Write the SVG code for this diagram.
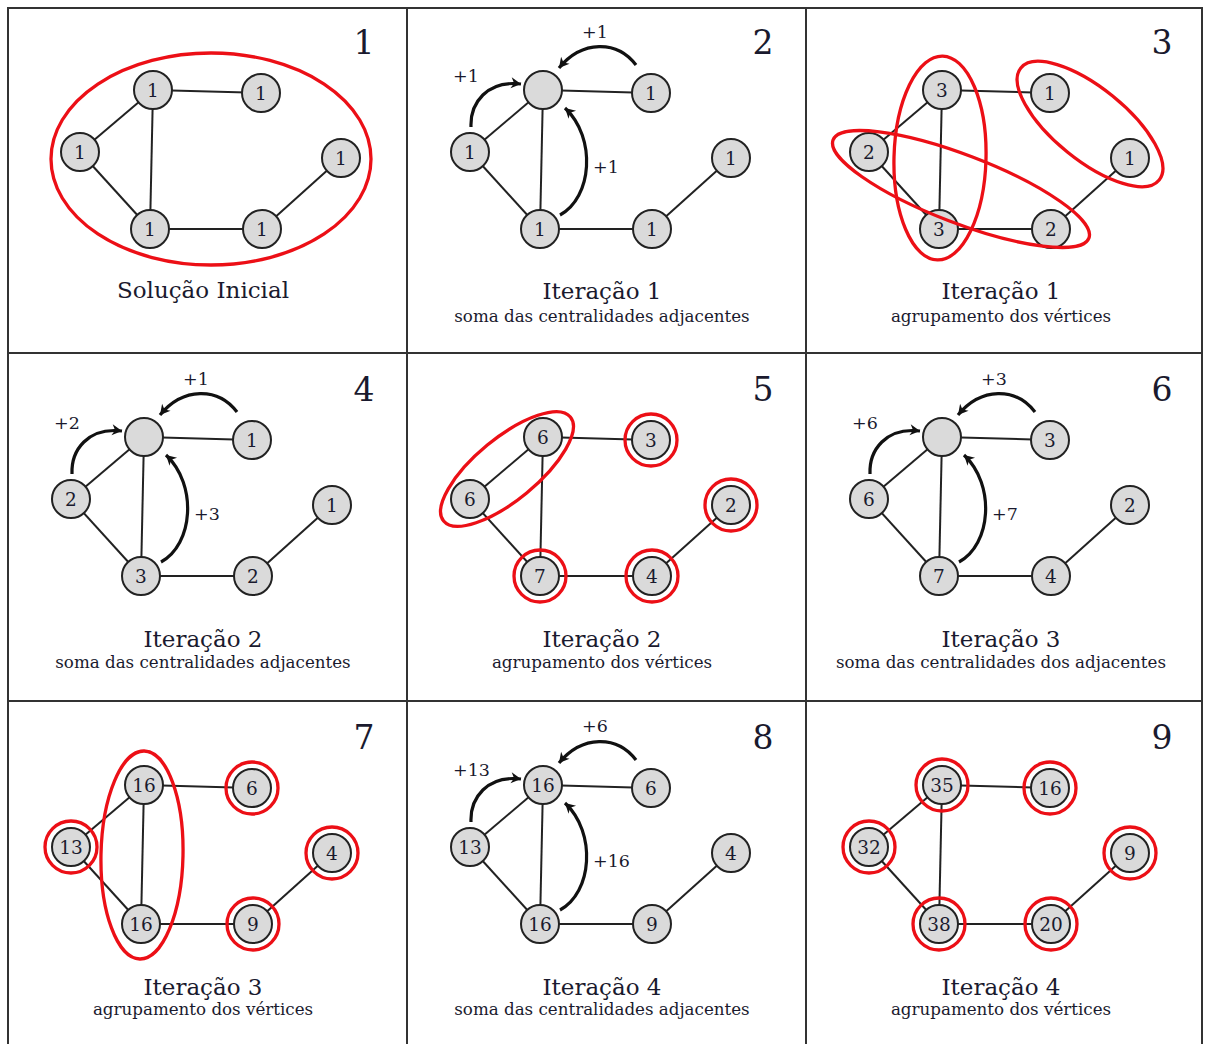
<svg xmlns="http://www.w3.org/2000/svg" width="1205" height="1044" viewBox="0 0 1205 1044">
<defs>
<style>
.frame line{stroke:#333;stroke-width:2}
.edges line{stroke:#222;stroke-width:2}
.node circle{fill:#dadada;stroke:#222;stroke-width:2}
.node text{font-family:"DejaVu Serif",serif;font-size:18.5px;fill:#1a1a2e;text-anchor:middle}
.ring{fill:none;stroke:#ec0f16;stroke-width:3.3}
.arrow{fill:none;stroke:#111;stroke-width:3.2;marker-end:url(#head)}
.lbl{font-family:"DejaVu Serif",serif;font-size:17.5px;fill:#1a1a2e}
.num{font-family:"DejaVu Serif",serif;font-size:33px;fill:#1a1a2e;text-anchor:middle}
.title{font-family:"DejaVu Serif",serif;font-size:23px;fill:#1a1a2e;text-anchor:middle}
.sub{font-family:"DejaVu Serif",serif;font-size:16.7px;fill:#1a1a2e;text-anchor:middle}
</style>
<marker id="head" markerUnits="userSpaceOnUse" markerWidth="13" markerHeight="12" viewBox="-11 -6 13 12" refX="0" refY="0" orient="auto">
<path d="M-10,-5.5 L0,0 L-10,5.5 L-7,0 Z" fill="#111"/>
</marker>
</defs>
<rect width="1205" height="1044" fill="#fff"/>
<g id="grid" class="frame">
<line x1="7" y1="8" x2="1203" y2="8"/>
<line x1="8" y1="353" x2="1202" y2="353"/>
<line x1="8" y1="701" x2="1202" y2="701"/>
<line x1="8" y1="7" x2="8" y2="1044"/>
<line x1="407" y1="7" x2="407" y2="1044"/>
<line x1="806" y1="7" x2="806" y2="1044"/>
<line x1="1202" y1="7" x2="1202" y2="1044"/>
</g>

<!-- Panel 1 -->
<g id="panel1" transform="translate(8,8)">
<text class="num" x="356" y="46">1</text>
<text class="title" x="195" y="290">Solução Inicial</text>
<g transform="translate(9,0)">
<g id="p1-connectors" class="edges">
<line x1="136" y1="82" x2="244" y2="85"/><line x1="136" y1="82" x2="63" y2="144"/><line x1="136" y1="82" x2="133" y2="221"/><line x1="63" y1="144" x2="133" y2="221"/><line x1="133" y1="221" x2="245" y2="221"/><line x1="245" y1="221" x2="324" y2="150"/>
</g>
<g id="p1-a" class="node"><circle cx="136" cy="82" r="19"/><text x="136" y="88.5">1</text></g>
<g id="p1-b" class="node"><circle cx="244" cy="85" r="19"/><text x="244" y="91.5">1</text></g>
<g id="p1-c" class="node"><circle cx="63" cy="144" r="19"/><text x="63" y="150.5">1</text></g>
<g id="p1-d" class="node"><circle cx="133" cy="221" r="19"/><text x="133" y="227.5">1</text></g>
<g id="p1-e" class="node"><circle cx="245" cy="221" r="19"/><text x="245" y="227.5">1</text></g>
<g id="p1-f" class="node"><circle cx="324" cy="150" r="19"/><text x="324" y="156.5">1</text></g>
<ellipse class="ring" cx="194" cy="151" rx="160" ry="106"/>
</g>
</g>

<!-- Panel 2 -->
<g id="panel2" transform="translate(407,8)">
<text class="num" x="356" y="46">2</text>
<text class="title" x="195" y="291">Iteração 1</text>
<text class="sub" x="195" y="314">soma das centralidades adjacentes</text>
<g id="p2-connectors" class="edges">
<line x1="136" y1="82" x2="244" y2="85"/><line x1="136" y1="82" x2="63" y2="144"/><line x1="136" y1="82" x2="133" y2="221"/><line x1="63" y1="144" x2="133" y2="221"/><line x1="133" y1="221" x2="245" y2="221"/><line x1="245" y1="221" x2="324" y2="150"/>
</g>
<g id="p2-a" class="node"><circle cx="136" cy="82" r="19"/></g>
<g id="p2-b" class="node"><circle cx="244" cy="85" r="19"/><text x="244" y="91.5">1</text></g>
<g id="p2-c" class="node"><circle cx="63" cy="144" r="19"/><text x="63" y="150.5">1</text></g>
<g id="p2-d" class="node"><circle cx="133" cy="221" r="19"/><text x="133" y="227.5">1</text></g>
<g id="p2-e" class="node"><circle cx="245" cy="221" r="19"/><text x="245" y="227.5">1</text></g>
<g id="p2-f" class="node"><circle cx="324" cy="150" r="19"/><text x="324" y="156.5">1</text></g>
<g id="p2-arrows">
<path class="arrow" d="M229,57 C210,32 175,32 152,60"/>
<path class="arrow" d="M64,119 C63,95 80,72 114,76"/>
<path class="arrow" d="M153,207 C185,190 190,130 158,100"/>
<text class="lbl" x="175" y="30">+1</text><text class="lbl" x="46" y="74">+1</text><text class="lbl" x="186" y="165">+1</text>
</g>
</g>

<!-- Panel 3 -->
<g id="panel3" transform="translate(806,8)">
<text class="num" x="356" y="46">3</text>
<text class="title" x="195" y="291">Iteração 1</text>
<text class="sub" x="195" y="314">agrupamento dos vértices</text>
<g id="p3-connectors" class="edges">
<line x1="136" y1="82" x2="244" y2="85"/><line x1="136" y1="82" x2="63" y2="144"/><line x1="136" y1="82" x2="133" y2="221"/><line x1="63" y1="144" x2="133" y2="221"/><line x1="133" y1="221" x2="245" y2="221"/><line x1="245" y1="221" x2="324" y2="150"/>
</g>
<g id="p3-a" class="node"><circle cx="136" cy="82" r="19"/><text x="136" y="88.5">3</text></g>
<g id="p3-b" class="node"><circle cx="244" cy="85" r="19"/><text x="244" y="91.5">1</text></g>
<g id="p3-c" class="node"><circle cx="63" cy="144" r="19"/><text x="63" y="150.5">2</text></g>
<g id="p3-d" class="node"><circle cx="133" cy="221" r="19"/><text x="133" y="227.5">3</text></g>
<g id="p3-e" class="node"><circle cx="245" cy="221" r="19"/><text x="245" y="227.5">2</text></g>
<g id="p3-f" class="node"><circle cx="324" cy="150" r="19"/><text x="324" y="156.5">1</text></g>
<g id="p3-groups">
<ellipse class="ring" cx="134" cy="150" rx="46" ry="102" transform="rotate(1.5 134 150)"/>
<ellipse class="ring" cx="155" cy="181" rx="137" ry="34" transform="rotate(21 155 181)"/>
<ellipse class="ring" cx="284" cy="116" rx="89" ry="36" transform="rotate(39 284 116)"/>
</g>
</g>

<!-- Panel 4 -->
<g id="panel4" transform="translate(8,355)">
<text class="num" x="356" y="46">4</text>
<text class="title" x="195" y="292">Iteração 2</text>
<text class="sub" x="195" y="313">soma das centralidades adjacentes</text>
<g id="p4-connectors" class="edges">
<line x1="136" y1="82" x2="244" y2="85"/><line x1="136" y1="82" x2="63" y2="144"/><line x1="136" y1="82" x2="133" y2="221"/><line x1="63" y1="144" x2="133" y2="221"/><line x1="133" y1="221" x2="245" y2="221"/><line x1="245" y1="221" x2="324" y2="150"/>
</g>
<g id="p4-a" class="node"><circle cx="136" cy="82" r="19"/></g>
<g id="p4-b" class="node"><circle cx="244" cy="85" r="19"/><text x="244" y="91.5">1</text></g>
<g id="p4-c" class="node"><circle cx="63" cy="144" r="19"/><text x="63" y="150.5">2</text></g>
<g id="p4-d" class="node"><circle cx="133" cy="221" r="19"/><text x="133" y="227.5">3</text></g>
<g id="p4-e" class="node"><circle cx="245" cy="221" r="19"/><text x="245" y="227.5">2</text></g>
<g id="p4-f" class="node"><circle cx="324" cy="150" r="19"/><text x="324" y="156.5">1</text></g>
<g id="p4-arrows">
<path class="arrow" d="M229,57 C210,32 175,32 152,60"/>
<path class="arrow" d="M64,119 C63,95 80,72 114,76"/>
<path class="arrow" d="M153,207 C185,190 190,130 158,100"/>
<text class="lbl" x="175" y="30">+1</text><text class="lbl" x="46" y="74">+2</text><text class="lbl" x="186" y="165">+3</text>
</g>
</g>

<!-- Panel 5 -->
<g id="panel5" transform="translate(407,355)">
<text class="num" x="356" y="46">5</text>
<text class="title" x="195" y="292">Iteração 2</text>
<text class="sub" x="195" y="313">agrupamento dos vértices</text>
<g id="p5-connectors" class="edges">
<line x1="136" y1="82" x2="244" y2="85"/><line x1="136" y1="82" x2="63" y2="144"/><line x1="136" y1="82" x2="133" y2="221"/><line x1="63" y1="144" x2="133" y2="221"/><line x1="133" y1="221" x2="245" y2="221"/><line x1="245" y1="221" x2="324" y2="150"/>
</g>
<g id="p5-a" class="node"><circle cx="136" cy="82" r="19"/><text x="136" y="88.5">6</text></g>
<g id="p5-b" class="node"><circle cx="244" cy="85" r="19"/><text x="244" y="91.5">3</text></g>
<g id="p5-c" class="node"><circle cx="63" cy="144" r="19"/><text x="63" y="150.5">6</text></g>
<g id="p5-d" class="node"><circle cx="133" cy="221" r="19"/><text x="133" y="227.5">7</text></g>
<g id="p5-e" class="node"><circle cx="245" cy="221" r="19"/><text x="245" y="227.5">4</text></g>
<g id="p5-f" class="node"><circle cx="324" cy="150" r="19"/><text x="324" y="156.5">2</text></g>
<g id="p5-groups">
<ellipse class="ring" cx="100" cy="114" rx="82" ry="31" transform="rotate(-39.4 100 114)"/>
<circle class="ring" cx="244" cy="85" r="26"/>
<circle class="ring" cx="324" cy="150" r="26"/>
<circle class="ring" cx="133" cy="221" r="26"/>
<circle class="ring" cx="245" cy="221" r="26"/>
</g>
</g>

<!-- Panel 6 -->
<g id="panel6" transform="translate(806,355)">
<text class="num" x="356" y="46">6</text>
<text class="title" x="195" y="292">Iteração 3</text>
<text class="sub" x="195" y="313">soma das centralidades dos adjacentes</text>
<g id="p6-connectors" class="edges">
<line x1="136" y1="82" x2="244" y2="85"/><line x1="136" y1="82" x2="63" y2="144"/><line x1="136" y1="82" x2="133" y2="221"/><line x1="63" y1="144" x2="133" y2="221"/><line x1="133" y1="221" x2="245" y2="221"/><line x1="245" y1="221" x2="324" y2="150"/>
</g>
<g id="p6-a" class="node"><circle cx="136" cy="82" r="19"/></g>
<g id="p6-b" class="node"><circle cx="244" cy="85" r="19"/><text x="244" y="91.5">3</text></g>
<g id="p6-c" class="node"><circle cx="63" cy="144" r="19"/><text x="63" y="150.5">6</text></g>
<g id="p6-d" class="node"><circle cx="133" cy="221" r="19"/><text x="133" y="227.5">7</text></g>
<g id="p6-e" class="node"><circle cx="245" cy="221" r="19"/><text x="245" y="227.5">4</text></g>
<g id="p6-f" class="node"><circle cx="324" cy="150" r="19"/><text x="324" y="156.5">2</text></g>
<g id="p6-arrows">
<path class="arrow" d="M229,57 C210,32 175,32 152,60"/>
<path class="arrow" d="M64,119 C63,95 80,72 114,76"/>
<path class="arrow" d="M153,207 C185,190 190,130 158,100"/>
<text class="lbl" x="175" y="30">+3</text><text class="lbl" x="46" y="74">+6</text><text class="lbl" x="186" y="165">+7</text>
</g>
</g>

<!-- Panel 7 -->
<g id="panel7" transform="translate(8,703)">
<text class="num" x="356" y="46">7</text>
<text class="title" x="195" y="292">Iteração 3</text>
<text class="sub" x="195" y="312">agrupamento dos vértices</text>
<g id="p7-connectors" class="edges">
<line x1="136" y1="82" x2="244" y2="85"/><line x1="136" y1="82" x2="63" y2="144"/><line x1="136" y1="82" x2="133" y2="221"/><line x1="63" y1="144" x2="133" y2="221"/><line x1="133" y1="221" x2="245" y2="221"/><line x1="245" y1="221" x2="324" y2="150"/>
</g>
<g id="p7-a" class="node"><circle cx="136" cy="82" r="19"/><text x="136" y="88.5">16</text></g>
<g id="p7-b" class="node"><circle cx="244" cy="85" r="19"/><text x="244" y="91.5">6</text></g>
<g id="p7-c" class="node"><circle cx="63" cy="144" r="19"/><text x="63" y="150.5">13</text></g>
<g id="p7-d" class="node"><circle cx="133" cy="221" r="19"/><text x="133" y="227.5">16</text></g>
<g id="p7-e" class="node"><circle cx="245" cy="221" r="19"/><text x="245" y="227.5">9</text></g>
<g id="p7-f" class="node"><circle cx="324" cy="150" r="19"/><text x="324" y="156.5">4</text></g>
<g id="p7-groups">
<ellipse class="ring" cx="134" cy="152" rx="41" ry="104" transform="rotate(1.2 134 152)"/>
<circle class="ring" cx="63" cy="144" r="26"/>
<circle class="ring" cx="244" cy="85" r="26"/>
<circle class="ring" cx="324" cy="150" r="26"/>
<circle class="ring" cx="245" cy="221" r="26"/>
</g>
</g>

<!-- Panel 8 -->
<g id="panel8" transform="translate(407,703)">
<text class="num" x="356" y="46">8</text>
<text class="title" x="195" y="292">Iteração 4</text>
<text class="sub" x="195" y="312">soma das centralidades adjacentes</text>
<g id="p8-connectors" class="edges">
<line x1="136" y1="82" x2="244" y2="85"/><line x1="136" y1="82" x2="63" y2="144"/><line x1="136" y1="82" x2="133" y2="221"/><line x1="63" y1="144" x2="133" y2="221"/><line x1="133" y1="221" x2="245" y2="221"/><line x1="245" y1="221" x2="324" y2="150"/>
</g>
<g id="p8-a" class="node"><circle cx="136" cy="82" r="19"/><text x="136" y="88.5">16</text></g>
<g id="p8-b" class="node"><circle cx="244" cy="85" r="19"/><text x="244" y="91.5">6</text></g>
<g id="p8-c" class="node"><circle cx="63" cy="144" r="19"/><text x="63" y="150.5">13</text></g>
<g id="p8-d" class="node"><circle cx="133" cy="221" r="19"/><text x="133" y="227.5">16</text></g>
<g id="p8-e" class="node"><circle cx="245" cy="221" r="19"/><text x="245" y="227.5">9</text></g>
<g id="p8-f" class="node"><circle cx="324" cy="150" r="19"/><text x="324" y="156.5">4</text></g>
<g id="p8-arrows">
<path class="arrow" d="M229,57 C210,32 175,32 152,60"/>
<path class="arrow" d="M64,119 C63,95 80,72 114,76"/>
<path class="arrow" d="M153,207 C185,190 190,130 158,100"/>
<text class="lbl" x="175" y="29">+6</text><text class="lbl" x="46" y="73">+13</text><text class="lbl" x="186" y="164">+16</text>
</g>
</g>

<!-- Panel 9 -->
<g id="panel9" transform="translate(806,703)">
<text class="num" x="356" y="46">9</text>
<text class="title" x="195" y="292">Iteração 4</text>
<text class="sub" x="195" y="312">agrupamento dos vértices</text>
<g id="p9-connectors" class="edges">
<line x1="136" y1="82" x2="244" y2="85"/><line x1="136" y1="82" x2="63" y2="144"/><line x1="136" y1="82" x2="133" y2="221"/><line x1="63" y1="144" x2="133" y2="221"/><line x1="133" y1="221" x2="245" y2="221"/><line x1="245" y1="221" x2="324" y2="150"/>
</g>
<g id="p9-a" class="node"><circle cx="136" cy="82" r="19"/><text x="136" y="88.5">35</text></g>
<g id="p9-b" class="node"><circle cx="244" cy="85" r="19"/><text x="244" y="91.5">16</text></g>
<g id="p9-c" class="node"><circle cx="63" cy="144" r="19"/><text x="63" y="150.5">32</text></g>
<g id="p9-d" class="node"><circle cx="133" cy="221" r="19"/><text x="133" y="227.5">38</text></g>
<g id="p9-e" class="node"><circle cx="245" cy="221" r="19"/><text x="245" y="227.5">20</text></g>
<g id="p9-f" class="node"><circle cx="324" cy="150" r="19"/><text x="324" y="156.5">9</text></g>
<g id="p9-groups">
<circle class="ring" cx="136" cy="82" r="26"/>
<circle class="ring" cx="244" cy="85" r="26"/>
<circle class="ring" cx="63" cy="144" r="26"/>
<circle class="ring" cx="133" cy="221" r="26"/>
<circle class="ring" cx="245" cy="221" r="26"/>
<circle class="ring" cx="324" cy="150" r="26"/>
</g>
</g>
</svg>
